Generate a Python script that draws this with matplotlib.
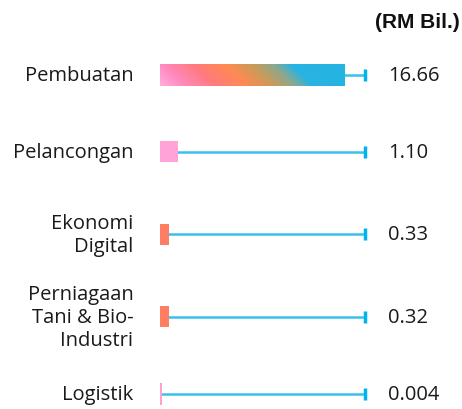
import numpy as np
import matplotlib.pyplot as plt
from matplotlib.colors import LinearSegmentedColormap
from matplotlib.patches import Rectangle

plt.rcParams['font.family'] = ['Open Sans', 'DejaVu Sans']

sectors = ["Pembuatan", "Pelancongan", "Ekonomi\nDigital", "Perniagaan\nTani & Bio-\nIndustri", "Logistik"]
values = np.array([16.66, 1.10, 0.33, 0.32, 0.004])
value_labels = ["16.66", "1.10", "0.33", "0.32", "0.004"]
bar_colors = [None, "#ffa3d8", "#ff7d62", "#ff7d62", "#ff9fd2"]
unit_label = "(RM Bil.)"
track_end = 18.5

# small bars get a little extra length so they stay visible, like the original
disp = np.where(values < 0.1, 0.18, np.where(values < 5, values + 0.5, values))

fig = plt.figure(figsize=(4.62, 4.10), dpi=100)
ax = fig.add_axes([160 / 462, 0.0075, 205 / 462, 0.9044])

line_col = "#3cc0ec"
cap_col = "#00b2ef"
h = 0.27
ypos = np.array([0, 0.96, 2.0, 3.03, 4.0])

for i, y in enumerate(ypos):
    ax.plot([0, track_end], [y, y], color=line_col, lw=1.8, solid_capstyle="butt", zorder=1, clip_on=False)
    ax.plot([track_end, track_end], [y - 0.075, y + 0.075], color=cap_col, lw=2.5,
            solid_capstyle="butt", zorder=3, clip_on=False)
    if i == 0:
        cmap = LinearSegmentedColormap.from_list("grad", [
            (0.0, "#ffaee0"), (0.12, "#ff88bc"), (0.27, "#ff7a7c"),
            (0.42, "#ff8a52"), (0.55, "#c99b5a"), (0.65, "#8ea88c"),
            (0.74, "#2ab3e2"), (1.0, "#22b5e3")])
        gx, gy = np.meshgrid(np.linspace(0, 1, 300), np.linspace(0, 1, 30))
        grad = gx + 0.12 * (1 - gy)
        rect = Rectangle((0, y - h / 2), disp[i], h, facecolor="none", edgecolor="none")
        ax.add_patch(rect)
        im = ax.imshow(grad, cmap=cmap, extent=(0, disp[i], y - h / 2, y + h / 2),
                       origin="lower", aspect="auto", zorder=2, interpolation="bilinear")
        im.set_clip_path(rect)
    else:
        ax.barh(y, disp[i], height=h, color=bar_colors[i], zorder=2)
    ax.text(-2.4, y, sectors[i], ha="right", va="center", fontsize=14.5,
            linespacing=1.2, color="#1a1a1a")
    ax.text(20.6, y, value_labels[i], ha="left", va="center", fontsize=14.5, color="#1a1a1a")

ax.set_xlim(0, track_end)
ax.set_ylim(4.15, -0.5)
ax.axis("off")

fig.text(0.995, 1 - 22 / 410, unit_label, ha="right", va="center", fontsize=15,
         fontweight="bold", color="#111111", family=["Liberation Sans", "DejaVu Sans"])

fig.savefig("out.png", dpi=100)
